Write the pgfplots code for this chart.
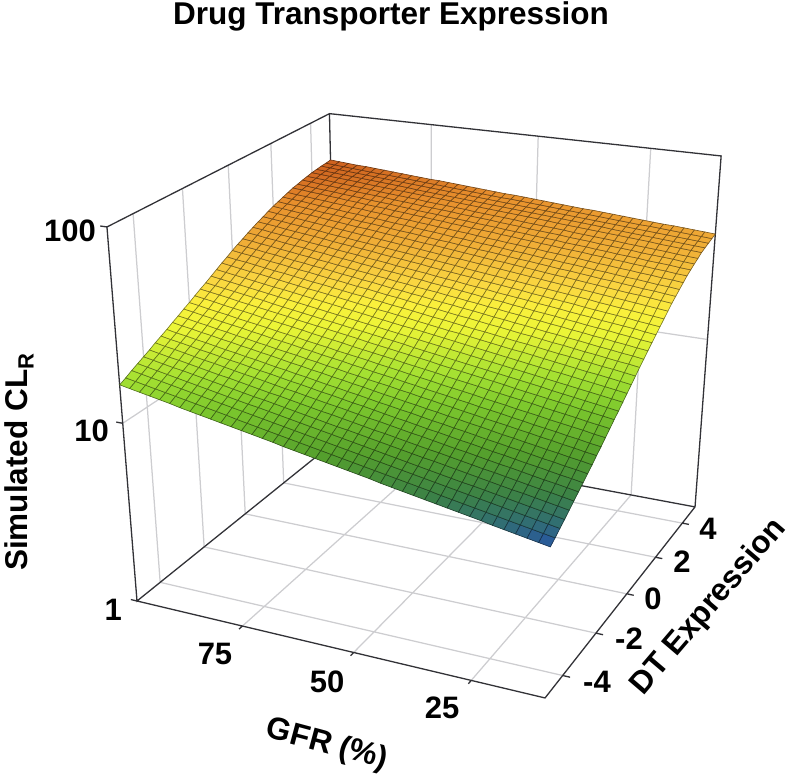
\documentclass[border=0pt]{standalone}
\usepackage{fontspec}
\setmainfont{Liberation Sans}
\usepackage{pgfplots}
\pgfplotsset{compat=1.18}
\pgfplotsset{/pgf/declare function={
 DEN(\u,\v,\w)=1-0.0942*\u+0.1792*\v-0.095*\w;
 PX(\u,\v,\w)=(137+356.7*\u+260.4*\v-40.2*\w)/DEN(\u,\v,\w);
 PY(\u,\v,\w)=777-(601+31.2*\u-82.2*\v-395.6*\w)/DEN(\u,\v,\w);
}}
\def\UU{((100-\thisrow{g})/90)}
\def\VV{((\thisrow{d}+5)/10)}
\def\WW{(log10(\thisrow{c})/2)}
\def\PXE{PX(\UU,\VV,\WW)}
\def\PYE{PY(\UU,\VV,\WW)}
\definecolor{boxc}{RGB}{50,50,55}
\definecolor{gridc}{RGB}{205,205,208}
\newcommand\LF{\fontsize{31.5}{36}\selectfont\bfseries}
\newcommand\TF{\fontsize{31}{36}\selectfont\bfseries}
\begin{document}
\begin{tikzpicture}
\useasboundingbox (0,0) rectangle (789pt,777pt);
\begin{axis}[at={(0,0)},anchor=south west,scale only axis,width=789pt,height=777pt,
 xmin=0,xmax=789,ymin=0,ymax=777,hide axis,clip=false,
 colormap={cl}{rgb255(0)=(40,85,165); rgb255(30)=(50,112,110); rgb255(60)=(60,130,70); rgb255(110)=(85,160,45); rgb255(170)=(125,200,45); rgb255(210)=(165,225,50); rgb255(270)=(235,245,55); rgb255(302)=(250,240,60); rgb255(332)=(250,215,65); rgb255(382)=(240,175,55); rgb255(432)=(232,145,45); rgb255(470)=(205,95,30)},
 point meta min=398,point meta max=868]
% grid lines on the walls and the floor
\addplot[gridc,line width=1.25pt,empty line=jump] table[x expr=\PXE,y expr=\PYE]{
g d c
75 -5 1
75 5 1

50 -5 1
50 5 1

25 -5 1
25 5 1

100 -4 1
10 -4 1

100 -2 1
10 -2 1

100 0 1
10 0 1

100 2 1
10 2 1

100 4 1
10 4 1

75 5 1
75 5 100

50 5 1
50 5 100

25 5 1
25 5 100

100 5 10
10 5 10

100 -4 1
100 -4 100

100 -2 1
100 -2 100

100 0 1
100 0 100

100 2 1
100 2 100

100 4 1
100 4 100

100 -5 10
100 5 10
};
% box
\addplot[boxc,line width=1.3pt,empty line=jump] table[x expr=\PXE,y expr=\PYE]{
g d c
100 -5 1
10 -5 1
10 5 1
10 5 100
100 5 100
100 -5 100
100 -5 1
100 5 1
10 5 1

100 5 1
100 5 100

101.5 -5 100
100 -5 100

101.5 -5 10
100 -5 10

101.5 -5 1
100 -5 1

75 -5 1
75 -5.15 1

50 -5 1
50 -5.15 1

25 -5 1
25 -5.15 1

10 -4 1
8.5 -4 1

10 -2 1
8.5 -2 1

10 0 1
8.5 0 1

10 2 1
8.5 2 1

10 4 1
8.5 4 1
};
% surface: 500*log10(CL), one line per DT step (-5 to 5 by 0.25), GFR 100 to 10 by 2.25
\addplot[surf,shader=faceted,mesh/rows=41,mesh/cols=41,line width=0.6pt,
 faceted color=mapped color!50!black,point meta=\thisrowno{0}]
 table[header=false,row sep=\\,
 x expr={PX(mod(\coordindex,41)/40,floor((\coordindex+0.5)/41)/40,\thisrowno{0}/1000)},
 y expr={PY(mod(\coordindex,41)/40,floor((\coordindex+0.5)/41)/40,\thisrowno{0}/1000)}]{
602\\597\\592\\587\\582\\577\\571\\566\\561\\556\\551\\546\\541\\536\\531\\526\\520\\515\\510\\505\\500\\495\\490\\485\\480\\474\\469\\464\\459\\454\\449\\444\\439\\434\\429\\423\\418\\413\\408\\403\\398\\
610\\605\\600\\595\\590\\585\\580\\575\\570\\565\\560\\554\\549\\544\\539\\534\\529\\524\\519\\514\\509\\504\\499\\494\\489\\484\\479\\474\\469\\464\\458\\453\\448\\443\\438\\433\\428\\423\\418\\413\\408\\
619\\614\\609\\604\\599\\594\\589\\584\\579\\574\\569\\564\\559\\554\\549\\544\\539\\534\\529\\524\\519\\514\\509\\504\\499\\494\\489\\484\\479\\474\\469\\464\\459\\454\\449\\444\\439\\434\\429\\424\\419\\
627\\622\\617\\612\\607\\602\\597\\592\\587\\582\\577\\572\\568\\563\\558\\553\\548\\543\\538\\533\\528\\523\\518\\513\\508\\503\\498\\493\\488\\483\\478\\473\\469\\464\\459\\454\\449\\444\\439\\434\\429\\
635\\630\\625\\620\\616\\611\\606\\601\\596\\591\\586\\581\\577\\572\\567\\562\\557\\552\\547\\542\\538\\533\\528\\523\\518\\513\\508\\503\\499\\494\\489\\484\\479\\474\\469\\464\\460\\455\\450\\445\\440\\
643\\638\\633\\629\\624\\619\\614\\609\\605\\600\\595\\590\\585\\581\\576\\571\\566\\561\\557\\552\\547\\542\\537\\533\\528\\523\\518\\513\\509\\504\\499\\494\\489\\485\\480\\475\\470\\465\\461\\456\\451\\
652\\647\\643\\638\\633\\628\\624\\619\\614\\609\\605\\600\\595\\590\\586\\581\\576\\571\\567\\562\\557\\552\\548\\543\\538\\533\\529\\524\\519\\514\\510\\505\\500\\495\\491\\486\\481\\476\\472\\467\\462\\
660\\655\\651\\646\\641\\637\\632\\627\\623\\618\\613\\609\\604\\599\\595\\590\\585\\581\\576\\571\\567\\562\\557\\552\\548\\543\\538\\534\\529\\524\\520\\515\\510\\506\\501\\496\\492\\487\\482\\478\\473\\
668\\663\\659\\654\\650\\645\\640\\636\\631\\627\\622\\617\\613\\608\\604\\599\\594\\590\\585\\581\\576\\571\\567\\562\\558\\553\\548\\544\\539\\535\\530\\525\\521\\516\\512\\507\\502\\498\\493\\489\\484\\
677\\672\\668\\663\\659\\654\\650\\645\\641\\636\\632\\627\\622\\618\\613\\609\\604\\600\\595\\591\\586\\581\\577\\572\\568\\563\\559\\554\\550\\545\\541\\536\\531\\527\\522\\518\\513\\509\\504\\500\\495\\
685\\681\\676\\672\\667\\663\\658\\654\\649\\645\\640\\636\\632\\627\\623\\618\\614\\609\\605\\600\\596\\592\\587\\583\\578\\574\\569\\565\\560\\556\\551\\547\\543\\538\\534\\529\\525\\520\\516\\511\\507\\
694\\690\\685\\681\\676\\672\\668\\663\\659\\654\\650\\646\\641\\637\\632\\628\\624\\619\\615\\610\\606\\602\\597\\593\\588\\584\\580\\575\\571\\566\\562\\558\\553\\549\\544\\540\\536\\531\\527\\522\\518\\
702\\698\\693\\689\\685\\680\\676\\672\\668\\663\\659\\655\\650\\646\\642\\637\\633\\629\\625\\620\\616\\612\\607\\603\\599\\594\\590\\586\\582\\577\\573\\569\\564\\560\\556\\551\\547\\543\\539\\534\\530\\
711\\707\\703\\698\\694\\690\\686\\681\\677\\673\\669\\665\\660\\656\\652\\648\\643\\639\\635\\631\\627\\622\\618\\614\\610\\605\\601\\597\\593\\588\\584\\580\\576\\572\\567\\563\\559\\555\\550\\546\\542\\
720\\716\\712\\708\\703\\699\\695\\691\\687\\683\\678\\674\\670\\666\\662\\658\\654\\649\\645\\641\\637\\633\\629\\625\\620\\616\\612\\608\\604\\600\\596\\591\\587\\583\\579\\575\\571\\566\\562\\558\\554\\
728\\724\\720\\716\\712\\708\\704\\699\\695\\691\\687\\683\\679\\675\\671\\667\\663\\659\\655\\651\\647\\642\\638\\634\\630\\626\\622\\618\\614\\610\\606\\602\\598\\594\\589\\585\\581\\577\\573\\569\\565\\
737\\733\\729\\725\\721\\717\\713\\709\\705\\701\\697\\693\\689\\685\\681\\677\\673\\669\\665\\661\\657\\653\\649\\645\\641\\637\\633\\629\\625\\621\\617\\613\\609\\605\\601\\597\\593\\589\\585\\581\\577\\
746\\742\\738\\734\\730\\726\\722\\719\\715\\711\\707\\703\\699\\695\\691\\687\\683\\679\\675\\671\\668\\664\\660\\656\\652\\648\\644\\640\\636\\632\\628\\624\\620\\616\\613\\609\\605\\601\\597\\593\\589\\
755\\751\\747\\743\\740\\736\\732\\728\\724\\720\\717\\713\\709\\705\\701\\697\\693\\690\\686\\682\\678\\674\\670\\666\\663\\659\\655\\651\\647\\643\\640\\636\\632\\628\\624\\620\\616\\613\\609\\605\\601\\
763\\759\\756\\752\\748\\744\\741\\737\\733\\729\\726\\722\\718\\714\\711\\707\\703\\699\\696\\692\\688\\684\\681\\677\\673\\669\\666\\662\\658\\654\\651\\647\\643\\639\\636\\632\\628\\624\\621\\617\\613\\
772\\768\\765\\761\\757\\754\\750\\746\\743\\739\\735\\732\\728\\724\\721\\717\\713\\710\\706\\702\\698\\695\\691\\687\\684\\680\\676\\673\\669\\665\\662\\658\\654\\651\\647\\643\\640\\636\\632\\629\\625\\
780\\776\\773\\769\\766\\762\\758\\755\\751\\748\\744\\740\\737\\733\\730\\726\\722\\719\\715\\712\\708\\704\\701\\697\\694\\690\\686\\683\\679\\676\\672\\668\\665\\661\\658\\654\\650\\647\\643\\640\\636\\
787\\784\\780\\777\\773\\770\\766\\763\\759\\756\\752\\749\\745\\742\\738\\735\\731\\728\\724\\721\\718\\714\\711\\707\\704\\700\\697\\693\\690\\686\\683\\679\\676\\672\\669\\665\\662\\658\\655\\651\\648\\
795\\792\\788\\785\\781\\778\\775\\771\\768\\764\\761\\758\\754\\751\\747\\744\\741\\737\\734\\730\\727\\724\\720\\717\\713\\710\\707\\703\\700\\696\\693\\690\\686\\683\\679\\676\\673\\669\\666\\662\\659\\
802\\799\\795\\792\\789\\786\\782\\779\\776\\772\\769\\766\\762\\759\\756\\752\\749\\746\\743\\739\\736\\733\\729\\726\\723\\719\\716\\713\\710\\706\\703\\700\\696\\693\\690\\686\\683\\680\\677\\673\\670\\
809\\806\\803\\799\\796\\793\\790\\787\\783\\780\\777\\774\\771\\767\\764\\761\\758\\755\\751\\748\\745\\742\\739\\735\\732\\729\\726\\723\\719\\716\\713\\710\\707\\703\\700\\697\\694\\691\\687\\684\\681\\
815\\812\\809\\806\\803\\800\\797\\793\\790\\787\\784\\781\\778\\775\\772\\769\\766\\763\\760\\757\\754\\750\\747\\744\\741\\738\\735\\732\\729\\726\\723\\720\\717\\714\\710\\707\\704\\701\\698\\695\\692\\
822\\819\\816\\813\\810\\807\\804\\801\\798\\795\\792\\789\\786\\783\\780\\777\\774\\771\\768\\765\\763\\760\\757\\754\\751\\748\\745\\742\\739\\736\\733\\730\\727\\724\\721\\718\\715\\712\\709\\706\\703\\
828\\825\\822\\819\\817\\814\\811\\808\\805\\802\\800\\797\\794\\791\\788\\785\\782\\780\\777\\774\\771\\768\\765\\762\\760\\757\\754\\751\\748\\745\\743\\740\\737\\734\\731\\728\\725\\723\\720\\717\\714\\
833\\830\\828\\825\\822\\819\\817\\814\\811\\808\\806\\803\\800\\797\\795\\792\\789\\786\\784\\781\\778\\775\\773\\770\\767\\764\\762\\759\\756\\753\\751\\748\\745\\742\\740\\737\\734\\731\\729\\726\\723\\
838\\835\\833\\830\\827\\825\\822\\819\\817\\814\\812\\809\\806\\804\\801\\798\\796\\793\\790\\788\\785\\782\\780\\777\\774\\772\\769\\766\\764\\761\\759\\756\\753\\751\\748\\745\\743\\740\\737\\735\\732\\
843\\840\\838\\835\\833\\830\\828\\825\\823\\820\\818\\815\\812\\810\\807\\805\\802\\800\\797\\795\\792\\789\\787\\784\\782\\779\\777\\774\\772\\769\\767\\764\\761\\759\\756\\754\\751\\749\\746\\744\\741\\
848\\846\\843\\841\\838\\836\\833\\831\\828\\826\\824\\821\\819\\816\\814\\811\\809\\806\\804\\801\\799\\797\\794\\792\\789\\787\\784\\782\\779\\777\\775\\772\\770\\767\\765\\762\\760\\757\\755\\752\\750\\
851\\849\\846\\844\\842\\839\\837\\835\\832\\830\\828\\825\\823\\820\\818\\816\\813\\811\\809\\806\\804\\802\\799\\797\\795\\792\\790\\788\\785\\783\\781\\778\\776\\773\\771\\769\\766\\764\\762\\759\\757\\
855\\853\\850\\848\\846\\844\\841\\839\\837\\835\\832\\830\\828\\825\\823\\821\\819\\816\\814\\812\\810\\807\\805\\803\\800\\798\\796\\794\\791\\789\\787\\784\\782\\780\\778\\775\\773\\771\\769\\766\\764\\
858\\856\\854\\851\\849\\847\\845\\843\\840\\838\\836\\834\\832\\829\\827\\825\\823\\821\\818\\816\\814\\812\\810\\807\\805\\803\\801\\799\\796\\794\\792\\790\\788\\785\\783\\781\\779\\777\\774\\772\\770\\
861\\859\\857\\855\\853\\851\\848\\846\\844\\842\\840\\838\\836\\834\\832\\830\\827\\825\\823\\821\\819\\817\\815\\813\\811\\809\\806\\804\\802\\800\\798\\796\\794\\792\\790\\788\\785\\783\\781\\779\\777\\
863\\861\\859\\857\\855\\853\\851\\849\\847\\845\\843\\840\\838\\836\\834\\832\\830\\828\\826\\824\\822\\820\\818\\816\\814\\812\\810\\808\\806\\804\\802\\799\\797\\795\\793\\791\\789\\787\\785\\783\\781\\
865\\863\\861\\859\\857\\855\\853\\851\\849\\847\\845\\843\\841\\839\\837\\835\\833\\831\\829\\827\\825\\823\\821\\819\\817\\815\\813\\811\\809\\807\\805\\803\\801\\799\\797\\795\\793\\791\\789\\787\\785\\
866\\864\\862\\860\\858\\856\\854\\853\\851\\849\\847\\845\\843\\841\\839\\837\\835\\833\\831\\829\\828\\826\\824\\822\\820\\818\\816\\814\\812\\810\\808\\806\\804\\802\\801\\799\\797\\795\\793\\791\\789\\
868\\866\\864\\862\\861\\859\\857\\855\\853\\851\\849\\847\\846\\844\\842\\840\\838\\836\\834\\832\\831\\829\\827\\825\\823\\821\\819\\817\\816\\814\\812\\810\\808\\806\\804\\802\\801\\799\\797\\795\\793\\
};
% text
\node[font=\LF,inner sep=0pt] at (axis cs:391,761) {Drug Transporter Expression};
\node[font=\LF,rotate=90,inner sep=0pt] at (axis cs:19,315) {Simulated CL\textsubscript{R}};
\node[font=\LF,rotate=-15,inner sep=0pt] at (axis cs:327,32) {GFR (\%)};
\node[font=\LF,rotate=49.5,inner sep=0pt] at (axis cs:709,170) {DT Expression};
\node[font=\TF,anchor=east,inner sep=0pt] at (axis cs:96,546) {100};
\node[font=\TF,anchor=east,inner sep=0pt] at (axis cs:109,346) {10};
\node[font=\TF,anchor=east,inner sep=0pt] at (axis cs:122,167) {1};
\node[font=\TF,inner sep=0pt] at (axis cs:215,123) {75};
\node[font=\TF,inner sep=0pt] at (axis cs:327,95) {50};
\node[font=\TF,inner sep=0pt] at (axis cs:442,69) {25};
\node[font=\TF,inner sep=0pt] at (axis cs:597,95) {-4};
\node[font=\TF,inner sep=0pt] at (axis cs:629,138) {-2};
\node[font=\TF,inner sep=0pt] at (axis cs:653,178) {0};
\node[font=\TF,inner sep=0pt] at (axis cs:682,215) {2};
\node[font=\TF,inner sep=0pt] at (axis cs:708,248) {4};
\end{axis}
\end{tikzpicture}
\end{document}
